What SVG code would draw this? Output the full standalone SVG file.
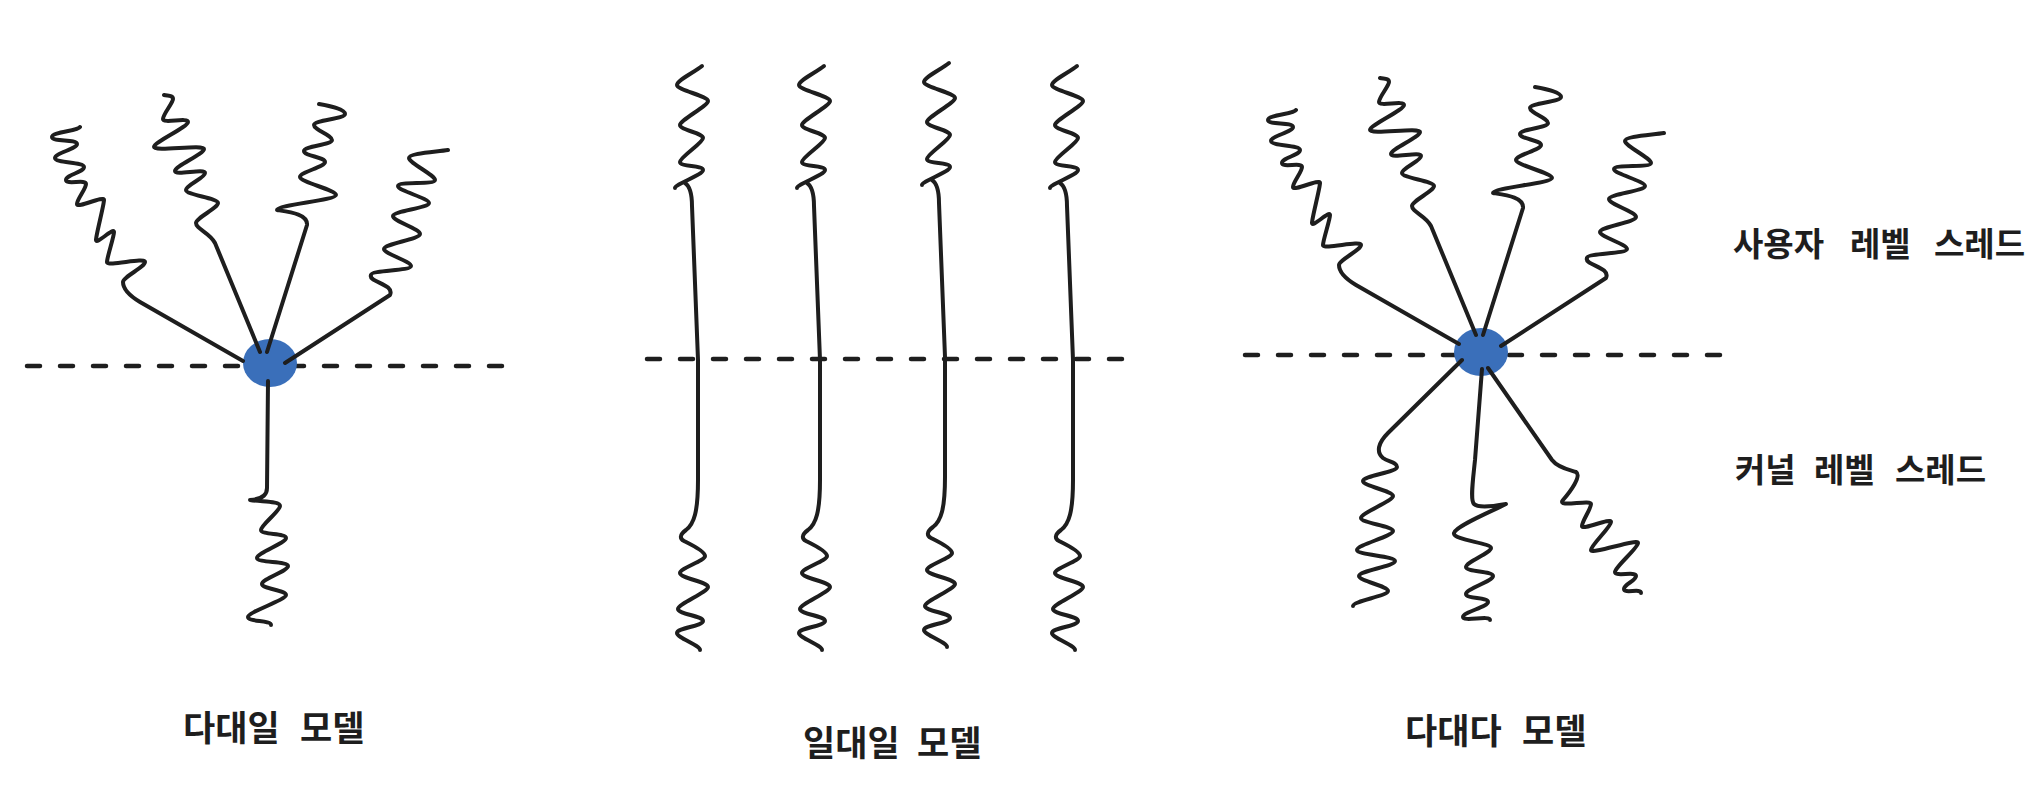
<svg xmlns="http://www.w3.org/2000/svg" xmlns:xlink="http://www.w3.org/1999/xlink" width="2042" height="798" viewBox="0 0 2042 798">
<style>
.s{fill:none;stroke:#1e1e1e;stroke-width:4;stroke-linecap:round;stroke-linejoin:round}
.d{fill:none;stroke:#1e1e1e;stroke-width:4.5;stroke-linecap:round;stroke-dasharray:13 20}
.b{fill:#3a6fba}
.t{font-family:"Noto Sans CJK KR","Noto Sans",sans-serif;fill:#1e1e1e;font-weight:bold}
.lb{font-size:35px}
.rl{font-size:33px}
</style>
<defs>
<g id="upper">
<path class="s" d="M80,127 C78,131 52,132 52,137 S77,139 77,144 S55,153 55,158 S84,162 84,167 S66,175 66,180 S86,179 86,184 S77,199 77,204 S104,195 104,200 S96,235 96,240 S114,227 114,232 S107,257 107,262 S145,257 145,262 S123,277 123,282 C123,290 130,296 140,302 L243,361"/>
<path class="s" d="M164,95 C168,96 173,95 173,99 S163,114 163,119 S188,117 188,122 S154,142 154,147 S204,144 204,149 S175,166 175,171 S205,168 205,173 S186,185 186,190 S218,198 218,203 S196,218 196,223 C196,229 210,233 215,243 L260,352"/>
<path class="s" d="M319,104 C330,106 345,109 345,114 S314,120 314,125 S332,135 332,140 S304,146 304,151 S325,157 325,162 S300,172 300,177 S336,190 336,195 S277,205 277,210 C290,212 308,214 307,225 L267,352"/>
<path class="s" d="M448,150 C435,152 409,153 409,158 S435,175 435,180 S398,181 398,186 S429,198 429,203 S393,211 393,216 S420,229 420,234 S384,244 384,249 S411,261 411,266 S371,270 371,275 C368,282 395,284 390,295 L285,363"/>
</g>
<g id="oneone">
<path class="s" d="M702,66 C695,72 677,80 677,85 S708,96 708,101 S680,120 680,125 S703,133 703,138 S680,157 680,162 S703,165 703,170 S675,184 675,188"/>
<path class="s" d="M685,183 C691,187 692,196 692,206 L698,360 L698,480 C698,512 694,524 686,530 C679,535 680,539 684,541 S705,551 705,556 S680,568 680,573 S708,582 708,587 S678,604 678,609 S703,616 703,621 S677,628 677,633 S700,645 700,650"/>
</g>
</defs>

<g id="lines">
<path class="d" d="M27,366 L512,366"/>
<path class="d" d="M647,359 L1132,359"/>
<path class="d" d="M1245,355 L1731,355"/>
</g>

<g id="many-to-one">
<ellipse class="b" cx="270" cy="363" rx="27" ry="24"/>
<use xlink:href="#upper"/>
<path class="s" d="M268,381 L267,488 Q267,499 250,500 C262,502 280,501 280,506 S261,525 261,530 S286,533 286,538 S257,553 257,558 S288,561 288,566 S262,579 262,584 S286,590 286,595 S248,612 248,617 S271,620 271,625"/>
</g>

<g id="one-to-one">
<use xlink:href="#oneone"/>
<use xlink:href="#oneone" transform="translate(122,0)"/>
<use xlink:href="#oneone" transform="translate(247,-3)"/>
<use xlink:href="#oneone" transform="translate(375,0)"/>
</g>

<g id="many-to-many">
<ellipse class="b" cx="1481" cy="352" rx="27" ry="24"/>
<use xlink:href="#upper" transform="translate(1216,-17)"/>
<path class="s" d="M1462,360 L1388,433 C1378,443 1376,452 1383,458 C1388,462 1397,462 1397,467 S1363,476 1363,481 S1393,491 1393,496 S1361,513 1361,518 S1393,526 1393,531 S1357,545 1357,550 S1395,556 1395,561 S1359,571 1359,576 S1388,586 1388,591 S1353,601 1353,606"/>
<path class="s" d="M1482,369 L1475,460 C1473,480 1470,500 1474,504 C1478,508 1495,506 1506,504 C1490,512 1456,526 1454,533 S1491,543 1491,548 S1466,562 1466,567 S1493,571 1493,576 S1466,589 1466,594 S1488,597 1488,602 S1463,612 1463,617 S1490,615 1490,620"/>
<path class="s" d="M1488,368 L1552,460 C1558,468 1570,470 1576,472 C1582,476 1570,492 1563,500 S1591,499 1591,504 S1582,521 1582,526 S1611,517 1611,522 S1591,545 1591,550 S1638,538 1638,543 S1615,567 1615,572 S1636,571 1636,576 S1624,584 1624,589 S1641,588 1641,593"/>
</g>

<g id="labels">
<text class="t lb" y="741"><tspan x="183">다대일</tspan><tspan x="300">모델</tspan></text>
<text class="t lb" y="756"><tspan x="803">일대일</tspan><tspan x="917">모델</tspan></text>
<text class="t lb" y="744"><tspan x="1405">다대다</tspan><tspan x="1522">모델</tspan></text>
<text class="t rl" y="256"><tspan x="1733">사용자</tspan><tspan x="1850">레벨</tspan><tspan x="1934">스레드</tspan></text>
<text class="t rl" y="482"><tspan x="1735">커널</tspan><tspan x="1814">레벨</tspan><tspan x="1895">스레드</tspan></text>
</g>
</svg>
